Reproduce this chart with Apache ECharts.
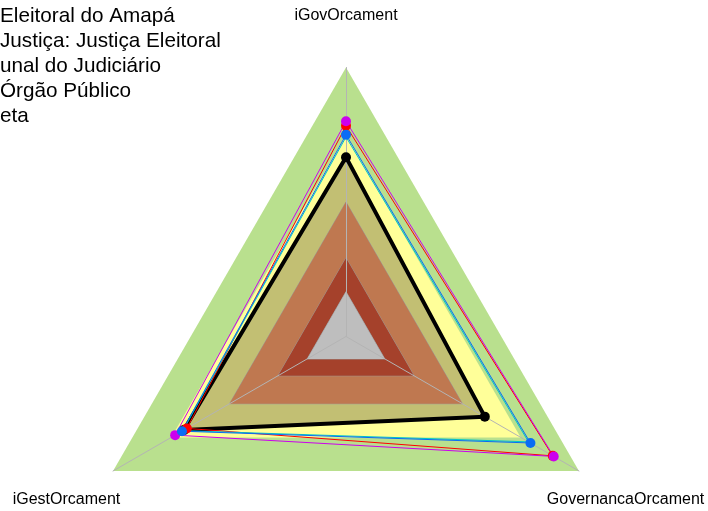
<!DOCTYPE html>
<html>
<head>
<meta charset="utf-8">
<script src="https://cdn.jsdelivr.net/npm/echarts@6/dist/echarts.min.js"></script>
<style>
  html, body { margin: 0; padding: 0; background: #fff; }
  #chart { width: 708px; height: 511px; }
</style>
</head>
<body>
<div id="chart"></div>
<script>
// eixos (ordem do radar: topo, esquerda, direita)
var indicadores = ['iGovOrcament', 'iGestOrcament', 'GovernancaOrcament']

// faixas de referencia (limite superior de cada faixa)
var faixaInexpressivo = [0.15, 0.15, 0.15]
var faixaIniciando = [0.4, 0.4, 0.4]
var faixaIntermediario = [0.7, 0.7, 0.7]
var faixaAprimorado = [1, 1, 1]
var faixaCentro = [0, 0, 0]

// series
var amapa = [0.6, 0.635, 0.515]
var justicaEleitoral = [0.70, 0.645, 0.75]
var tribunalJudiciario = [0.74, 0.62, 0.865]
var orgaoPublico = [0.76, 0.68, 0.87]
var meta = [0.69, 0.64, 0.74]

var nomes = ['Eleitoral do Amapá', 'Justiça: Justiça Eleitoral', 'unal do Judiciário', 'Órgão Público', 'eta']

var cx = 346
var cy = 336.5
var raio = 269
var fonte = '"Liberation Sans", Arial, sans-serif'

var chart = echarts.init(document.getElementById('chart'))

function faixa(valores, cor, borda) {
  return {
    value: valores,
    symbol: 'none',
    lineStyle: { color: '#9a9a9a', width: borda ? 1 : 0 },
    areaStyle: { color: cor, opacity: 1 }
  }
}

function serieLinha(nome, valores, cor, largura, simbolo) {
  return {
    name: nome,
    type: 'radar',
    z: 3,
    silent: true,
    data: [{
      name: nome,
      value: valores,
      symbol: simbolo ? 'circle' : 'none',
      symbolSize: 10,
      itemStyle: { color: cor },
      lineStyle: { color: cor, width: largura }
    }]
  }
}

// rotulos dos eixos a 1.2 do raio
var angulos = [90, 210, 330]
var rotulos = indicadores.map(function(nome, i) {
  var a = angulos[i] * Math.PI / 180
  return {
    type: 'text',
    x: cx + Math.cos(a) * raio * 1.2,
    y: cy - Math.sin(a) * raio * 1.2 + 2,
    style: {
      text: nome,
      fill: '#000',
      fontSize: 16,
      fontFamily: fonte,
      textAlign: 'center',
      textVerticalAlign: 'middle'
    }
  }
})

var option = {
  animation: false,
  legend: {
    data: nomes,
    orient: 'vertical',
    left: -35,
    top: 1,
    itemWidth: 25,
    itemHeight: 12,
    itemGap: 4,
    textStyle: { fontSize: 20.7, color: '#000', fontFamily: fonte, lineHeight: 21 }
  },
  graphic: rotulos,
  radar: {
    z: 2,
    center: [cx, cy],
    radius: raio,
    startAngle: 90,
    shape: 'polygon',
    splitNumber: 1,
    axisName: { show: false },
    axisLine: { lineStyle: { color: '#b4b4b4', width: 1 } },
    axisTick: { show: false },
    axisLabel: { show: false },
    splitLine: { show: false },
    splitArea: { show: false },
    indicator: indicadores.map(function(n) { return { name: n, min: -0.2, max: 1 } })
  },
  series: [
    {
      name: 'faixas',
      type: 'radar',
      z: 1,
      silent: true,
      data: [
        faixa(faixaAprimorado, '#b9e08e', false),
        faixa(faixaIntermediario, '#ffff99', false),
        faixa(amapa, '#c2bf73', false),
        faixa(faixaIniciando, '#bf7850', true),
        faixa(faixaInexpressivo, '#a5412b', true),
        faixa(faixaCentro, '#bebebe', true)
      ]
    },
    serieLinha(nomes[0], amapa, '#000000', 4, true),
    serieLinha(nomes[2], tribunalJudiciario, '#ff0000', 1, true),
    serieLinha(nomes[3], orgaoPublico, '#cc00ee', 1, true),
    serieLinha(nomes[4], meta, '#00c8c8', 1, false),
    serieLinha(nomes[1], justicaEleitoral, '#0a6cf5', 1, true)
  ]
}

chart.setOption(option)
</script>
</body>
</html>
